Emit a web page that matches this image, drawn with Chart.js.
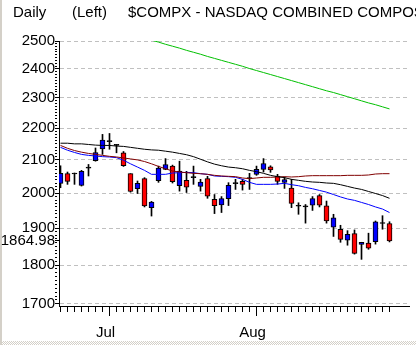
<!DOCTYPE html>
<html><head><meta charset="utf-8">
<script src="https://cdn.jsdelivr.net/npm/chart.js@4.4.0/dist/chart.umd.min.js"></script>
<style>html,body{margin:0;padding:0;background:#fff;overflow:hidden}canvas{display:block}</style>
</head><body>
<canvas id="c" width="416" height="345"></canvas>
<script>
// ---- data ----
const dates = ['06-21','06-22','06-25','06-26','06-27','06-28','06-29',
 '07-02','07-03','07-05','07-06','07-09','07-10','07-11','07-12','07-13','07-16','07-17','07-18','07-19','07-20','07-23','07-24','07-25','07-26','07-27','07-30','07-31',
 '08-01','08-02','08-03','08-06','08-07','08-08','08-09','08-10','08-13','08-14','08-15','08-16','08-17','08-20','08-21','08-22','08-23','08-24','08-27','08-28'];
const opens  = [2029,2058,2057,2023,2075,2098,2134,2157,2145,2122,2058,2013,2043,1958,2037,2071,2081,2022,2038,2046,2020,2043,1982,1966,1984,2028,2035,2043,
 2056,2071,2079,2051,2032,2015,1962,1960,1965,1993,1963,1903,1897,1867,1885,1855,1859,1863,1913,1913];
const highs  = [2082,2063,2060,2068,2086,2137,2180,2183,2148,2126,2058,2036,2046,1976,2081,2104,2084,2096,2065,2081,2041,2050,1996,1990,2031,2041,2041,2059,
 2081,2104,2082,2056,2048,2041,1972,1967,1990,1996,1977,1939,1908,1893,1895,1861,1886,1920,1935,1918];
const lows   = [2016,2026,2026,2021,2051,2096,2117,2133,2122,2080,2003,1999,1960,1934,2032,2070,2030,2006,2002,2026,2006,1985,1941,1944,1964,2011,2009,2011,
 2053,2063,2062,2026,2014,1958,1939,1914,1950,1960,1914,1877,1861,1853,1829,1815,1842,1856,1897,1862];
const closes = [2059,2035,2057,2065,2075,2123,2162,2157,2145,2082,2005,2029,1963,1974,2075,2086,2034,2066,2018,2046,2033,1991,1964,1984,2023,2028,2026,2043,
 2071,2089,2069,2035,2040,1970,1962,1960,1984,1965,1920,1929,1869,1883,1831,1861,1845,1918,1913,1864.98];
const maBlue  = [2139,2130,2123,2117,2114,2112,2110,2109,2107,2099,2088,2078,2068,2056,2056,2056,2060,2061,2062,2061,2058,2056,2051,2050,2049,2047,2041,2032,
 2026,2026,2026,2027,2029,2025,2022,2017,2013,2008,2003,1996,1989,1983,1979,1973,1967,1960,1954,1944];
const maBlack = [2152,2152,2150,2150,2148,2146,2145,2145,2143,2142,2139,2136,2133,2131,2130,2127,2124,2120,2116,2110,2102,2094,2087,2082,2078,2076,2073,2068,
 2064,2059,2053,2049,2046,2041,2038,2035,2033,2032,2030,2029,2025,2020,2015,2011,2005,1999,1993,1985];
const maRed   = [2145,2136,2129,2124,2120,2117,2114,2111,2109,2106,2103,2100,2095,2088,2080,2073,2066,2063,2061,2059,2058,2056,2053,2051,2050,2049,2045,2043,
 2045,2047,2047,2048,2049,2048,2049,2051,2052,2052,2052,2052,2052,2053,2053,2053,2054,2057,2058,2058];
const maGreen = [2602,2594,2586,2579,2571,2564,2556,2548,2541,2533,2526,2518,2511,2503,2496,2488,2481,2474,2466,2459,2452,2444,2437,2430,2423,2416,2409,2401,
 2394,2387,2380,2373,2366,2359,2352,2345,2338,2331,2324,2318,2311,2304,2297,2290,2283,2277,2270,2263];
const yLabelValues = [1700,1800,1900,2000,2100,2200,2300,2400,2500];
const lastClose = 1864.98;
const monthNames = {'06':'Jun','07':'Jul','08':'Aug'};

// ---- derived structures ----
const FONT = "'Liberation Sans', Arial, sans-serif";
const idx = dates.map((d,i)=>i);
const monthLabelAt = {};
dates.forEach((d,i)=>{ if(i>0 && d.slice(0,2)!==dates[i-1].slice(0,2)) monthLabelAt[i]=monthNames[d.slice(0,2)]; });
const yMinor = []; for(let v=1700; v<=2500; v+=10) yMinor.push(v);
const yTicks = yMinor.concat([lastClose]).sort((a,b)=>a-b);
const bodyColors = opens.map((o,i)=> closes[i]>o ? '#0000ff' : (closes[i]<o ? '#ff0000' : '#000000'));
const pts = arr => arr.map((v,i)=>({x:i,y:v}));

const frameAndHeader = {
  id:'header',
  beforeDraw(chart){
    const c = chart.ctx, W = chart.width, H = chart.height;
    c.save();
    c.fillStyle = '#d4d0c8';
    c.fillRect(0, 0, 2, H);
    // stippled bottom strip
    for (let y = H-4; y < H; y++) for (let x = 0; x < W; x++) {
      if ((x + y) % 2 === 0) c.fillRect(x, y, 1, 1);
    }
    c.restore();
  },
  afterDraw(chart){
    const c = chart.ctx;
    c.save();
    c.fillStyle = '#000';
    c.font = '15px ' + FONT;
    c.textBaseline = 'alphabetic';
    c.fillText('Daily', 13, 17);
    c.fillText('(Left)', 72, 17);
    c.fillText('$COMPX - NASDAQ COMBINED COMPOSITE INDEX', 128, 17);
    c.restore();
  }
};

new Chart(document.getElementById('c'), {
  type:'bar',
  data:{ datasets:[
    {type:'line', label:'MA green', data:pts(maGreen), borderColor:'#00c000', borderWidth:1, pointRadius:0, order:0},
    {type:'line', label:'MA black', data:pts(maBlack), borderColor:'#000000', borderWidth:1, pointRadius:0, order:0},
    {type:'line', label:'MA red', data:pts(maRed), borderColor:'#800000', borderWidth:1, pointRadius:0, order:0},
    {type:'line', label:'MA blue', data:pts(maBlue), borderColor:'#0000ff', borderWidth:1, pointRadius:0, order:0},
    {label:'body', data:idx.map(i=>({x:i,y:[opens[i],closes[i]]})), backgroundColor:bodyColors, borderColor:'#000', borderWidth:1,
     barThickness:5, grouped:false, minBarLength:1, borderSkipped:false, order:1},
    {label:'wick', data:idx.map(i=>({x:i,y:[lows[i],highs[i]]})), backgroundColor:'#000', borderWidth:0,
     barThickness:1, grouped:false, order:2}
  ]},
  options:{
    responsive:false, animation:false, devicePixelRatio:1,
    layout:{padding:{top:41,right:7,left:0,bottom:0}},
    plugins:{legend:{display:false}, tooltip:{enabled:false}, title:{display:false}},
    scales:{
      x:{ type:'linear', offset:false, min:-0.2143, max:49.7857,
        afterBuildTicks(s){ s.ticks = idx.map(i=>({value:i})); },
        afterFit(s){ s.height = 39; },
        grid:{ offset:false, drawOnChartArea:false, tickLength:10, tickColor:'#000',
          tickBorderDash:(ctx)=> (ctx.tick && monthLabelAt[ctx.tick.value]) ? [] : [5,30] },
        border:{color:'#000', width:1},
        ticks:{ autoSkip:false, maxRotation:0, padding:8, labelOffset:-4, color:'#000', font:{family:FONT, size:15},
          callback:(v)=> monthLabelAt[v] || '' }
      },
      y:{ type:'logarithmic', min:1695, max:2500,
        afterBuildTicks(s){ s.ticks = yTicks.map(v=>({value:v})); },
        afterFit(s){ s.width = 59; },
        grid:{ tickLength:4, tickColor:'#000',
          color:(ctx)=> (ctx.tick && yLabelValues.includes(ctx.tick.value)) ? '#c0c0c0' : 'rgba(0,0,0,0)',
          tickBorderDash:(ctx)=> (ctx.tick && (yLabelValues.includes(ctx.tick.value) || ctx.tick.value===lastClose)) ? [] : [2,30] },
        border:{color:'#000', width:1, dash:[4,3]},
        ticks:{ autoSkip:false, padding:0, color:'#000', font:{family:FONT, size:15},
          callback:(v)=> v===lastClose ? lastClose.toFixed(2) : (yLabelValues.includes(v) ? String(v) : '') }
      }
    }
  },
  plugins:[frameAndHeader]
});
</script>
</body></html>
